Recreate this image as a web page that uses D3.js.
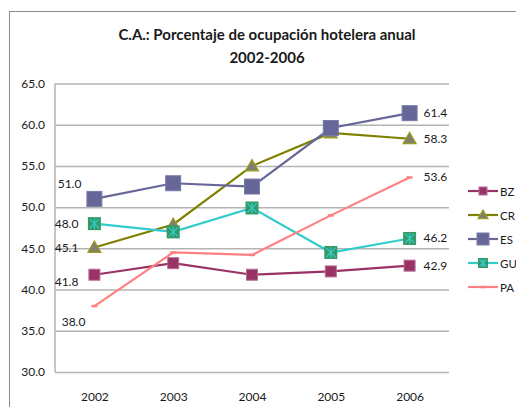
<!DOCTYPE html>
<html lang="es">
<head>
  <meta charset="utf-8">
  <title>C.A.: Porcentaje de ocupación hotelera anual</title>
  <script src="https://d3js.org/d3.v7.min.js"></script>
  <style>
    body { margin: 0; background: #fff; }
    text { font-family: Lato, "Open Sans", sans-serif; fill: #1a1a1a; }
  </style>
</head>
<body>
<script>
  var years = ["2002", "2003", "2004", "2005", "2006"];
  var yTicks = [30, 35, 40, 45, 50, 55, 60, 65];

  var bz = [41.8, 43.2, 41.8, 42.2, 42.9];
  var cr = [45.1, 47.9, 55.0, 59.0, 58.3];
  var es = [51.0, 52.9, 52.5, 59.6, 61.4];
  var gu = [48.0, 47.0, 49.9, 44.5, 46.2];
  var pa = [38.0, 44.5, 44.2, 49.0, 53.6];

  var series = [
    {name: "BZ", values: bz, line: "#993366", fill: "#993366", stroke: "#b86c94", marker: "square", size: 11},
    {name: "CR", values: cr, line: "#808000", fill: "#7f7f6a", stroke: "#9c9c1e", marker: "triangle", size: 13},
    {name: "ES", values: es, line: "#666699", fill: "#666699", stroke: "#7a7aa8", marker: "square", size: 15},
    {name: "GU", values: gu, line: "#33cccc", fill: "#339966", stroke: "#33cccc", marker: "cross", size: 13},
    {name: "PA", values: pa, line: "#ff8080", fill: "#ff8080", stroke: "#ff8080", marker: "dash", size: 6}
  ];

  // where the end labels sit, relative to the point
  var labelPos = {
    BZ: [[-16, 11, "end"], [14, 4, "start"]],
    CR: [[-16, 4, "end"], [14, 4, "start"]],
    ES: [[-13, -11, "end"], [14, 4, "start"]],
    GU: [[-16, 4, "end"], [14, 4, "start"]],
    PA: [[-9, 20, "end"], [14, 4, "start"]]
  };

  var W = 516, H = 407;
  var svg = d3.select("body").append("svg").attr("width", W).attr("height", H);

  // chart border
  svg.append("rect").attr("x", 9.5).attr("y", 11.5).attr("width", 540).attr("height", 420)
    .attr("fill", "none").attr("stroke", "#8c8c8c").attr("stroke-width", 1);

  svg.append("text").attr("x", 267).attr("y", 40).attr("text-anchor", "middle")
    .style("font-size", "15px").style("font-weight", "bold")
    .text("C.A.: Porcentaje de ocupación hotelera anual");
  svg.append("text").attr("x", 267).attr("y", 63).attr("text-anchor", "middle")
    .style("font-size", "15px").style("font-weight", "bold")
    .text("2002-2006");

  var x = d3.scalePoint().domain(years).range([55, 449]).padding(0.5);
  var y = d3.scaleLinear().domain([30, 65]).range([372, 83.5]);

  var grid = svg.append("g").attr("transform", "translate(55,0)")
    .call(d3.axisLeft(y).tickValues(yTicks).tickSize(-394).tickFormat(d3.format(".1f")).tickPadding(10));
  grid.select(".domain").remove();
  grid.selectAll(".tick line").attr("stroke", "#b3b3b3").attr("stroke-width", 1.5);
  grid.selectAll(".tick text").style("font-size", "12px").style("font-family", "Lato, sans-serif").attr("fill", "#1a1a1a");

  svg.append("line").attr("x1", 55).attr("x2", 55).attr("y1", y(65)).attr("y2", y(30))
    .attr("stroke", "#b3b3b3").attr("stroke-width", 1.5);

  var xa = svg.append("g").attr("transform", "translate(0," + y(30) + ")")
    .call(d3.axisBottom(x).tickSize(0).tickPadding(20));
  xa.select(".domain").remove();
  xa.selectAll(".tick text").style("font-size", "12px").style("font-family", "Lato, sans-serif").attr("fill", "#1a1a1a");

  var line = d3.line().x(function(d, i) { return x(years[i]); }).y(function(d) { return y(d); });

  function drawMarker(g, s, size) {
    var h = size / 2;
    if (s.marker === "square") {
      g.append("rect").attr("x", -h).attr("y", -h).attr("width", size).attr("height", size)
        .attr("fill", s.fill).attr("stroke", s.stroke).attr("stroke-width", 1);
    } else if (s.marker === "triangle") {
      g.append("path").attr("d", "M0," + (-h) + "L" + h + "," + (h * 0.75) + "L" + (-h) + "," + (h * 0.75) + "Z")
        .attr("fill", s.fill).attr("stroke", s.stroke).attr("stroke-width", 1.2);
    } else if (s.marker === "cross") {
      g.append("rect").attr("x", -h).attr("y", -h).attr("width", size).attr("height", size)
        .attr("fill", s.fill);
      var k = h * 0.7;
      g.append("path").attr("d", "M" + (-k) + "," + (-k) + "L" + k + "," + k + "M" + k + "," + (-k) + "L" + (-k) + "," + k + "M0," + (-h + 1) + "L0," + (h - 1))
        .attr("stroke", s.stroke).attr("stroke-width", 1.2);
    } else {
      g.append("line").attr("x1", -h).attr("x2", h).attr("stroke", s.stroke).attr("stroke-width", 2.5);
    }
  }

  series.forEach(function(s) {
    svg.append("path").datum(s.values).attr("d", line)
      .attr("fill", "none").attr("stroke", s.line).attr("stroke-width", 2.2);

    svg.selectAll(null).data(s.values).enter().append("g")
      .attr("transform", function(d, i) { return "translate(" + x(years[i]) + "," + y(d) + ")"; })
      .each(function() { drawMarker(d3.select(this), s, s.size); });

    var lp = labelPos[s.name];
    [0, years.length - 1].forEach(function(i, j) {
      svg.append("text")
        .attr("x", x(years[i]) + lp[j][0]).attr("y", y(s.values[i]) + lp[j][1])
        .attr("text-anchor", lp[j][2]).style("font-size", "12px")
        .text(d3.format(".1f")(s.values[i]));
    });
  });

  // legend
  var leg = svg.selectAll(".leg").data(series).enter().append("g")
    .attr("transform", function(d, i) { return "translate(468," + (191 + i * 24) + ")"; });
  leg.append("line").attr("x1", 0).attr("x2", 30)
    .attr("stroke", function(d) { return d.line; }).attr("stroke-width", 2.2);
  leg.append("g").attr("transform", "translate(15,0)")
    .each(function(d) { drawMarker(d3.select(this), d, Math.max(5, d.size - 3)); });
  leg.append("text").attr("x", 32).attr("y", 4.5).style("font-size", "11.5px")
    .text(function(d) { return d.name; });
</script>
</body>
</html>
